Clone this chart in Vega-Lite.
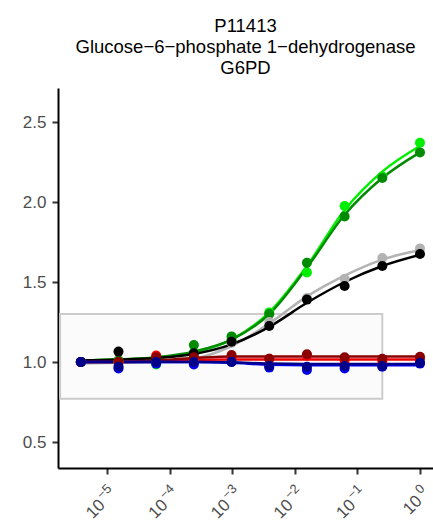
{
  "$schema": "https://vega.github.io/schema/vega-lite/v6.json",
  "width": 375,
  "height": 380,
  "autosize": {"type": "none"},
  "padding": {"left": 58, "top": 88, "right": 0, "bottom": 58},
  "background": "white",
  "config": {"view": {"stroke": null}},
  "title": {
    "text": ["P11413", "Glucose−6−phosphate 1−dehydrogenase", "G6PD"],
    "font": "Liberation Sans",
    "fontSize": 18.5,
    "fontWeight": "normal",
    "color": "#000000",
    "lineHeight": 21,
    "anchor": "middle",
    "offset": 11
  },
  "datasets": {
    "pts": [
      {"conc": 3.814697265625e-06, "s": "G2", "v": 1.0},
      {"conc": 1.52587890625e-05, "s": "G2", "v": 1.0},
      {"conc": 6.103515625e-05, "s": "G2", "v": 0.985},
      {"conc": 0.000244140625, "s": "G2", "v": 1.06},
      {"conc": 0.0009765625, "s": "G2", "v": 1.14},
      {"conc": 0.00390625, "s": "G2", "v": 1.31},
      {"conc": 0.015625, "s": "G2", "v": 1.56},
      {"conc": 0.0625, "s": "G2", "v": 1.975},
      {"conc": 0.25, "s": "G2", "v": 2.16},
      {"conc": 1, "s": "G2", "v": 2.37},
      {"conc": 3.814697265625e-06, "s": "G4", "v": 1.0},
      {"conc": 1.52587890625e-05, "s": "G4", "v": 1.01},
      {"conc": 6.103515625e-05, "s": "G4", "v": 1.02},
      {"conc": 0.000244140625, "s": "G4", "v": 1.106},
      {"conc": 0.0009765625, "s": "G4", "v": 1.16},
      {"conc": 0.00390625, "s": "G4", "v": 1.30},
      {"conc": 0.015625, "s": "G4", "v": 1.62},
      {"conc": 0.0625, "s": "G4", "v": 1.91},
      {"conc": 0.25, "s": "G4", "v": 2.15},
      {"conc": 1, "s": "G4", "v": 2.31},
      {"conc": 3.814697265625e-06, "s": "K7", "v": 1.0},
      {"conc": 1.52587890625e-05, "s": "K7", "v": 0.99},
      {"conc": 6.103515625e-05, "s": "K7", "v": 1.0},
      {"conc": 0.000244140625, "s": "K7", "v": 1.01},
      {"conc": 0.0009765625, "s": "K7", "v": 1.12},
      {"conc": 0.00390625, "s": "K7", "v": 1.25},
      {"conc": 0.015625, "s": "K7", "v": 1.40},
      {"conc": 0.0625, "s": "K7", "v": 1.52},
      {"conc": 0.25, "s": "K7", "v": 1.65},
      {"conc": 1, "s": "K7", "v": 1.71},
      {"conc": 3.814697265625e-06, "s": "K0", "v": 1.0},
      {"conc": 1.52587890625e-05, "s": "K0", "v": 1.065},
      {"conc": 6.103515625e-05, "s": "K0", "v": 1.017},
      {"conc": 0.000244140625, "s": "K0", "v": 1.054},
      {"conc": 0.0009765625, "s": "K0", "v": 1.127},
      {"conc": 0.00390625, "s": "K0", "v": 1.225},
      {"conc": 0.015625, "s": "K0", "v": 1.39},
      {"conc": 0.0625, "s": "K0", "v": 1.475},
      {"conc": 0.25, "s": "K0", "v": 1.60},
      {"conc": 1, "s": "K0", "v": 1.675},
      {"conc": 3.814697265625e-06, "s": "R2", "v": 1.0},
      {"conc": 1.52587890625e-05, "s": "R2", "v": 1.0},
      {"conc": 6.103515625e-05, "s": "R2", "v": 1.04},
      {"conc": 0.000244140625, "s": "R2", "v": 1.02},
      {"conc": 0.0009765625, "s": "R2", "v": 1.03},
      {"conc": 0.00390625, "s": "R2", "v": 1.02},
      {"conc": 0.015625, "s": "R2", "v": 1.04},
      {"conc": 0.0625, "s": "R2", "v": 1.008},
      {"conc": 0.25, "s": "R2", "v": 1.002},
      {"conc": 1, "s": "R2", "v": 1.02},
      {"conc": 3.814697265625e-06, "s": "R4", "v": 1.0},
      {"conc": 1.52587890625e-05, "s": "R4", "v": 1.0},
      {"conc": 6.103515625e-05, "s": "R4", "v": 1.03},
      {"conc": 0.000244140625, "s": "R4", "v": 1.03},
      {"conc": 0.0009765625, "s": "R4", "v": 1.044},
      {"conc": 0.00390625, "s": "R4", "v": 1.02},
      {"conc": 0.015625, "s": "R4", "v": 1.048},
      {"conc": 0.0625, "s": "R4", "v": 1.03},
      {"conc": 0.25, "s": "R4", "v": 1.02},
      {"conc": 1, "s": "R4", "v": 1.033},
      {"conc": 3.814697265625e-06, "s": "B2", "v": 1.0},
      {"conc": 1.52587890625e-05, "s": "B2", "v": 0.96},
      {"conc": 6.103515625e-05, "s": "B2", "v": 0.99},
      {"conc": 0.000244140625, "s": "B2", "v": 0.985},
      {"conc": 0.0009765625, "s": "B2", "v": 1.0},
      {"conc": 0.00390625, "s": "B2", "v": 0.965},
      {"conc": 0.015625, "s": "B2", "v": 0.95},
      {"conc": 0.0625, "s": "B2", "v": 0.96},
      {"conc": 0.25, "s": "B2", "v": 0.97},
      {"conc": 1, "s": "B2", "v": 0.99},
      {"conc": 3.814697265625e-06, "s": "B4", "v": 1.0},
      {"conc": 1.52587890625e-05, "s": "B4", "v": 0.97},
      {"conc": 6.103515625e-05, "s": "B4", "v": 1.0},
      {"conc": 0.000244140625, "s": "B4", "v": 1.0},
      {"conc": 0.0009765625, "s": "B4", "v": 1.0},
      {"conc": 0.00390625, "s": "B4", "v": 0.975},
      {"conc": 0.015625, "s": "B4", "v": 0.97},
      {"conc": 0.0625, "s": "B4", "v": 0.975},
      {"conc": 0.25, "s": "B4", "v": 0.975},
      {"conc": 1, "s": "B4", "v": 0.995}
    ],
    "fit": [
      {"conc": 3.814697265625e-06, "s": "G2", "v": 1.01},
      {"conc": 1.52587890625e-05, "s": "G2", "v": 1.015},
      {"conc": 6.103515625e-05, "s": "G2", "v": 1.025},
      {"conc": 0.000244140625, "s": "G2", "v": 1.06},
      {"conc": 0.0009765625, "s": "G2", "v": 1.14},
      {"conc": 0.00390625, "s": "G2", "v": 1.31},
      {"conc": 0.015625, "s": "G2", "v": 1.60},
      {"conc": 0.0625, "s": "G2", "v": 1.95},
      {"conc": 0.25, "s": "G2", "v": 2.19},
      {"conc": 1, "s": "G2", "v": 2.35},
      {"conc": 3.814697265625e-06, "s": "G4", "v": 1.01},
      {"conc": 1.52587890625e-05, "s": "G4", "v": 1.015},
      {"conc": 6.103515625e-05, "s": "G4", "v": 1.03},
      {"conc": 0.000244140625, "s": "G4", "v": 1.065},
      {"conc": 0.0009765625, "s": "G4", "v": 1.14},
      {"conc": 0.00390625, "s": "G4", "v": 1.30},
      {"conc": 0.015625, "s": "G4", "v": 1.59},
      {"conc": 0.0625, "s": "G4", "v": 1.92},
      {"conc": 0.25, "s": "G4", "v": 2.15},
      {"conc": 1, "s": "G4", "v": 2.31},
      {"conc": 3.814697265625e-06, "s": "K7", "v": 0.99},
      {"conc": 1.52587890625e-05, "s": "K7", "v": 0.995},
      {"conc": 6.103515625e-05, "s": "K7", "v": 1.0},
      {"conc": 0.000244140625, "s": "K7", "v": 1.02},
      {"conc": 0.0009765625, "s": "K7", "v": 1.10},
      {"conc": 0.00390625, "s": "K7", "v": 1.24},
      {"conc": 0.015625, "s": "K7", "v": 1.41},
      {"conc": 0.0625, "s": "K7", "v": 1.54},
      {"conc": 0.25, "s": "K7", "v": 1.64},
      {"conc": 1, "s": "K7", "v": 1.70},
      {"conc": 3.814697265625e-06, "s": "K0", "v": 1.01},
      {"conc": 1.52587890625e-05, "s": "K0", "v": 1.015},
      {"conc": 6.103515625e-05, "s": "K0", "v": 1.025},
      {"conc": 0.000244140625, "s": "K0", "v": 1.05},
      {"conc": 0.0009765625, "s": "K0", "v": 1.11},
      {"conc": 0.00390625, "s": "K0", "v": 1.22},
      {"conc": 0.015625, "s": "K0", "v": 1.37},
      {"conc": 0.0625, "s": "K0", "v": 1.50},
      {"conc": 0.25, "s": "K0", "v": 1.60},
      {"conc": 1, "s": "K0", "v": 1.67},
      {"conc": 3.814697265625e-06, "s": "R2", "v": 1.0},
      {"conc": 1.52587890625e-05, "s": "R2", "v": 1.0},
      {"conc": 6.103515625e-05, "s": "R2", "v": 1.005},
      {"conc": 0.000244140625, "s": "R2", "v": 1.012},
      {"conc": 0.0009765625, "s": "R2", "v": 1.015},
      {"conc": 0.00390625, "s": "R2", "v": 1.015},
      {"conc": 0.015625, "s": "R2", "v": 1.015},
      {"conc": 0.0625, "s": "R2", "v": 1.015},
      {"conc": 0.25, "s": "R2", "v": 1.015},
      {"conc": 1, "s": "R2", "v": 1.015},
      {"conc": 3.814697265625e-06, "s": "R4", "v": 1.0},
      {"conc": 1.52587890625e-05, "s": "R4", "v": 1.0},
      {"conc": 6.103515625e-05, "s": "R4", "v": 1.01},
      {"conc": 0.000244140625, "s": "R4", "v": 1.025},
      {"conc": 0.0009765625, "s": "R4", "v": 1.035},
      {"conc": 0.00390625, "s": "R4", "v": 1.035},
      {"conc": 0.015625, "s": "R4", "v": 1.035},
      {"conc": 0.0625, "s": "R4", "v": 1.035},
      {"conc": 0.25, "s": "R4", "v": 1.035},
      {"conc": 1, "s": "R4", "v": 1.035},
      {"conc": 3.814697265625e-06, "s": "B2", "v": 1.0},
      {"conc": 1.52587890625e-05, "s": "B2", "v": 1.0},
      {"conc": 6.103515625e-05, "s": "B2", "v": 1.0},
      {"conc": 0.000244140625, "s": "B2", "v": 1.0},
      {"conc": 0.0009765625, "s": "B2", "v": 0.995},
      {"conc": 0.00390625, "s": "B2", "v": 0.983},
      {"conc": 0.015625, "s": "B2", "v": 0.98},
      {"conc": 0.0625, "s": "B2", "v": 0.98},
      {"conc": 0.25, "s": "B2", "v": 0.98},
      {"conc": 1, "s": "B2", "v": 0.98},
      {"conc": 3.814697265625e-06, "s": "B4", "v": 1.0},
      {"conc": 1.52587890625e-05, "s": "B4", "v": 1.0},
      {"conc": 6.103515625e-05, "s": "B4", "v": 1.0},
      {"conc": 0.000244140625, "s": "B4", "v": 1.0},
      {"conc": 0.0009765625, "s": "B4", "v": 0.998},
      {"conc": 0.00390625, "s": "B4", "v": 0.99},
      {"conc": 0.015625, "s": "B4", "v": 0.988},
      {"conc": 0.0625, "s": "B4", "v": 0.988},
      {"conc": 0.25, "s": "B4", "v": 0.988},
      {"conc": 1, "s": "B4", "v": 0.988}
    ],
    "box": [{"x1": 1.78e-06, "x2": 0.25, "y1": 0.77, "y2": 1.3}]
  },
  "resolve": {"axis": {"x": "independent"}},
  "encoding": {
    "y": {"type": "quantitative", "scale": {"domain": [0.3375, 2.7125], "nice": false, "zero": false},
      "axis": {"values": [0.5, 1, 1.5, 2, 2.5], "format": ".1f", "title": null, "grid": false, "labelFont": "Liberation Sans", "labelFontSize": 17, "labelColor": "#4D4D4D", "labelPadding": 6,
        "tickColor": "#333333", "tickWidth": 2, "tickSize": 6, "domainColor": "#000000", "domainWidth": 2}}
  },
  "layer": [
    {
      "data": {"name": "box"},
      "mark": {"type": "rect", "fill": "#FBFBFB", "stroke": "#CCCCCC", "strokeWidth": 2},
      "encoding": {
        "x": {"field": "x1", "type": "quantitative", "scale": {"type": "log", "domain": [1.648e-06, 1.614], "nice": false},
          "axis": {"orient": "bottom", "values": [1e-05, 0.0001, 0.001, 0.01, 0.1, 1], "title": null, "grid": false,
            "labelExpr": "'10'",
            "labelAngle": -45, "labelAlign": "right", "labelBaseline": "middle", "labelFont": "Liberation Sans", "labelFontSize": 17, "labelColor": "#4D4D4D",
            "labelPadding": {"condition": {"test": "datum.value > 0.5", "value": 24}, "value": 28},
            "labelOffset": {"condition": {"test": "datum.value > 0.5", "value": -1}, "value": -5},
            "tickColor": "#333333", "tickWidth": 2, "tickSize": 6, "domainColor": "#000000", "domainWidth": 2, "labelFlush": false, "labelOverlap": false}},
        "x2": {"field": "x2"},
        "y": {"field": "y1", "type": "quantitative"},
        "y2": {"field": "y2"}
      }
    },
    {
      "data": {"name": "fit"},
      "mark": {"type": "line", "interpolate": "monotone", "strokeWidth": 2.5},
      "encoding": {
        "x": {"field": "conc", "type": "quantitative", "axis": null},
        "y": {"field": "v", "type": "quantitative"},
        "color": {"field": "s", "type": "nominal", "legend": null,
          "scale": {"domain": ["B2", "B4", "R2", "R4", "G2", "G4", "K7", "K0"], "range": ["#0000EE", "#00008B", "#EE0000", "#8B0000", "#00EE00", "#008B00", "#B3B3B3", "#000000"]}},
        "order": {"field": "conc", "type": "quantitative"}
      }
    },
    {
      "data": {"name": "pts"},
      "mark": {"type": "circle", "size": 100, "opacity": 1},
      "encoding": {
        "x": {"field": "conc", "type": "quantitative",
          "axis": {"orient": "bottom", "values": [1e-05, 0.0001, 0.001, 0.01, 0.1, 1], "title": null, "grid": false, "domain": false, "ticks": false,
            "labelExpr": "datum.value < 0.00005 ? '−5' : datum.value < 0.0005 ? '−4' : datum.value < 0.005 ? '−3' : datum.value < 0.05 ? '−2' : datum.value < 0.5 ? '−1' : '0'",
            "labelAngle": -45, "labelAlign": "right", "labelBaseline": "middle", "labelFont": "Liberation Sans", "labelFontSize": 13, "labelColor": "#4D4D4D",
            "labelPadding": 18, "labelOffset": 2, "labelFlush": false, "labelOverlap": false}},
        "y": {"field": "v", "type": "quantitative"},
        "color": {"field": "s", "type": "nominal", "legend": null}
      }
    }
  ]
}
